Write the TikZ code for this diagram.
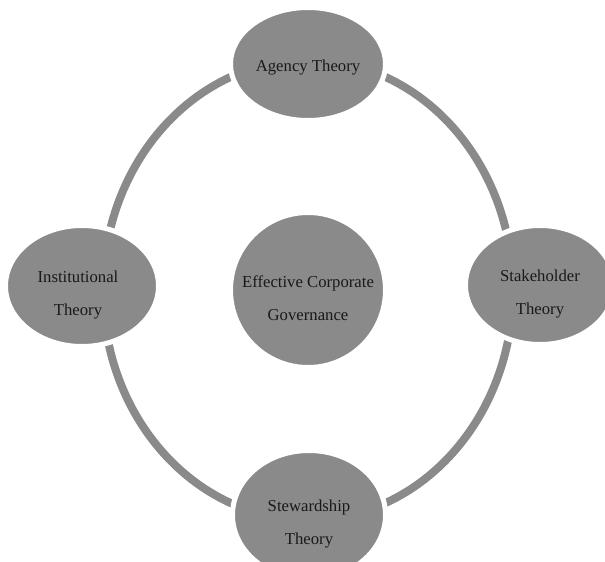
\documentclass[tikz,border=0pt]{standalone}
\usepackage{fontspec}
\setmainfont{Liberation Serif}
\usetikzlibrary{shapes.geometric}
\definecolor{shade}{RGB}{138,138,138}
\begin{document}
\begin{tikzpicture}[x=1pt, y=-1pt,
  theory/.style={ellipse, fill=shade, draw=white, line width=5pt, inner sep=0pt},
  words/.style={align=center, text=black!90, font=\fontsize{16.7}{33.5}\selectfont, yshift=-9pt},
  ring/.style={draw=shade, line width=8pt}]

\useasboundingbox (0,0) rectangle (605,562);
\clip (0,0) rectangle (605,562);

\coordinate (hub) at (308,290);
\draw [ring] (hub) ellipse [x radius=205pt, y radius=230pt];

\node [theory, circle, minimum size=155pt,
  label={[words, yshift=1pt]center:Effective Corporate\\Governance}] (goal) at (hub) {};

\node [theory, minimum width=155pt, minimum height=113pt,
  label={[words, yshift=5pt]center:Agency Theory}] (agency) at (308,64) {};
\node [theory, minimum width=153pt, minimum height=121pt,
  label={[words, xshift=-4pt]center:Institutional\\Theory}] (inst) at (82,286) {};
\node [theory, minimum width=149pt, minimum height=119pt,
  label={[words]center:Stakeholder\\Theory}] (stake) at (540,285) {};
\node [theory, minimum width=153pt, minimum height=129pt,
  label={[words]center:Stewardship\\Theory}] (steward) at (309,515) {};

\end{tikzpicture}
\end{document}
